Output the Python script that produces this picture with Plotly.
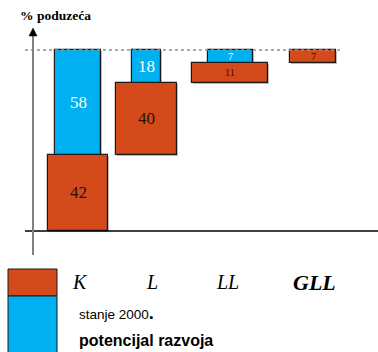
import plotly.graph_objects as go

# ---- data ----
categories = ["K", "L", "LL", "GLL"]
stanje_2000 = [42, 40, 11, 7]          # state in 2000 (orange)
stanje_base = [0, 42, 82, 93]
potencijal = [58, 18, 7]               # development potential (blue)
potencijal_base = [42, 82, 93]

# ---- layout constants (pixel based) ----
W, H = 378, 352
Y0_PX, Y100_PX = 231, 50               # pixel rows of 0 % and 100 %
SCALE = (Y0_PX - Y100_PX) / 100.0
slot_x = [78, 146, 230, 313]
orange_w = [60, 61, 76, 46]
blue_w = [46, 29, 45]
orange_font = [17, 17, 10, 10]
blue_font = [17, 17, 10]
ORANGE = "#D44A1A"
BLUE = "#00B0F0"
SERIF = "Liberation Serif"
SANS = "Liberation Sans"


def py(pixel_row):
    """pixel row -> value on the y axis"""
    return (Y0_PX - pixel_row) / SCALE


fig = go.Figure()

# soft shadow under the boxes
fig.add_trace(go.Bar(
    x=[x + 1 for x in slot_x], y=stanje_2000, base=[b - 0.6 for b in stanje_base],
    width=orange_w, marker=dict(color="#b8b8b8", line=dict(width=0)),
    hoverinfo="skip", showlegend=False))
fig.add_trace(go.Bar(
    x=[x + 1 for x in slot_x[:3]], y=potencijal, base=[b - 0.6 for b in potencijal_base],
    width=blue_w, marker=dict(color="#b8b8b8", line=dict(width=0)),
    hoverinfo="skip", showlegend=False))

fig.add_trace(go.Bar(
    x=slot_x, y=stanje_2000, base=stanje_base, width=orange_w,
    marker=dict(color=ORANGE, line=dict(color="#1a1a1a", width=1.2)),
    showlegend=False))
fig.add_trace(go.Bar(
    x=slot_x[:3], y=potencijal, base=potencijal_base, width=blue_w,
    marker=dict(color=BLUE, line=dict(color="#1a1a1a", width=1.2)),
    showlegend=False))

annotations = []
# value labels centred in each box
for xs, vals, bases, sizes, col in (
        (slot_x, stanje_2000, stanje_base, orange_font, "#2a1208"),
        (slot_x[:3], potencijal, potencijal_base, blue_font, "white")):
    for x, v, b, s in zip(xs, vals, bases, sizes):
        annotations.append(dict(
            x=x, y=b + v / 2, xref="x", yref="y", text=str(v), showarrow=False,
            xanchor="center", yanchor="middle",
            font=dict(family=SERIF, size=s, color=col)))

shapes = [
    # dotted 100 % line
    dict(type="line", xref="x", yref="y", x0=25, x1=343, y0=100, y1=100,
         line=dict(color="#909090", width=1.5, dash="dot")),
    # baseline
    dict(type="line", xref="x", yref="y", x0=25, x1=W, y0=0, y1=0,
         line=dict(color="black", width=1.5)),
    # vertical axis
    dict(type="line", xref="x", yref="y", x0=33, x1=33, y0=py(34), y1=py(255),
         line=dict(color="#808080", width=2)),
    # arrow head
    dict(type="path", xref="x", yref="y",
         path=f"M 33 {py(28)} L 29 {py(36)} L 37 {py(36)} Z",
         fillcolor="black", line=dict(color="black", width=0.5)),
    # legend swatches
    dict(type="rect", xref="x", yref="y", x0=8, x1=57, y0=py(269), y1=py(296),
         fillcolor=ORANGE, line=dict(color="#1a1a1a", width=1)),
    dict(type="rect", xref="x", yref="y", x0=8, x1=57, y0=py(296), y1=py(356),
         fillcolor=BLUE, line=dict(color="#1a1a1a", width=1)),
]

annotations += [
    dict(x=18, y=py(15), xref="x", yref="y", xanchor="left", yanchor="middle",
         text="<b>% poduzeća</b>", showarrow=False,
         font=dict(family=SERIF, size=13.5, color="black")),
    dict(x=77, y=py(313), xref="x", yref="y", xanchor="left", yanchor="middle",
         text="stanje 2000<b><span style='font-size:18px'>.</span></b>",
         showarrow=False,
         font=dict(family=SANS, size=13.5, color="black")),
    dict(x=77, y=py(340), xref="x", yref="y", xanchor="left", yanchor="middle",
         text="<b>potencijal razvoja</b>", showarrow=False,
         font=dict(family=SANS, size=16, color="black")),
]

label_x = [80, 152, 227, 314]
label_size = [20, 20, 20, 22]
for i, (cat, lx, ls) in enumerate(zip(categories, label_x, label_size)):
    txt = f"<i>{cat}</i>" if i < 3 else f"<b><i>{cat}</i></b>"
    annotations.append(dict(
        x=lx, y=py(282), xref="x", yref="y", xanchor="center", yanchor="middle",
        text=txt, showarrow=False,
        font=dict(family=SERIF, size=ls, color="black")))

fig.update_layout(
    width=W, height=H, margin=dict(l=0, r=0, t=0, b=0),
    paper_bgcolor="white", plot_bgcolor="white",
    font=dict(family=SERIF),
    barmode="overlay", bargap=0,
    xaxis=dict(range=[0, W], visible=False, fixedrange=True),
    yaxis=dict(range=[py(H), py(0)], visible=False, fixedrange=True),
    shapes=shapes, annotations=annotations,
    showlegend=False,
)

fig.write_html("out.html")
